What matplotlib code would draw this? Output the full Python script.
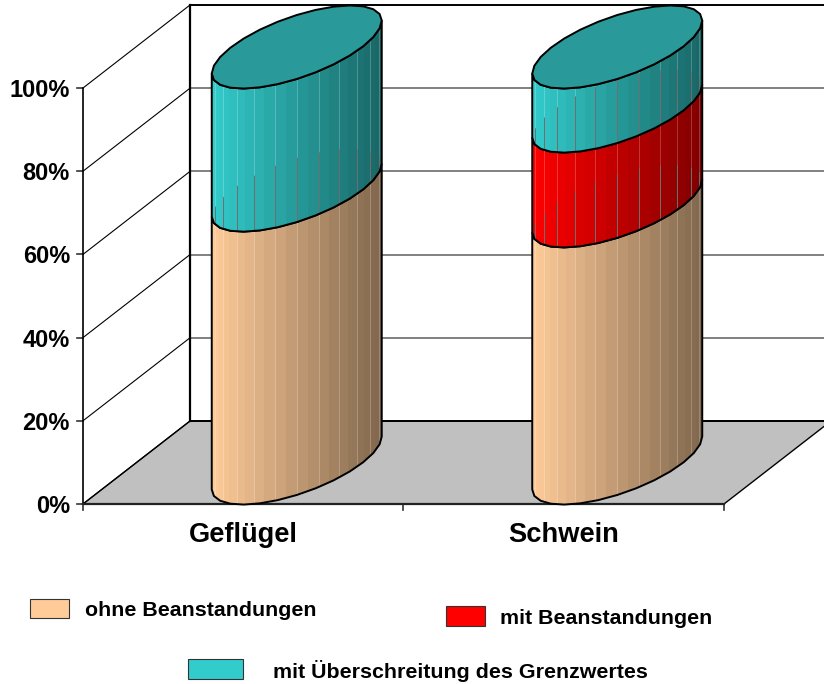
#!/usr/bin/env python

import numpy as np
import matplotlib
matplotlib.use("Agg")
import matplotlib.pyplot as plt
from matplotlib.patches import Polygon, Rectangle
from matplotlib.colors import to_rgb

plt.rcParams['font.family'] = ['Liberation Sans', 'DejaVu Sans']

categories = ['Geflügel', 'Schwein']
ohne = [65.6, 61.8]
mit = [0.0, 22.8]
ueber = [34.4, 15.4]
series_names = ['ohne Beanstandungen', 'mit Beanstandungen', 'mit Überschreitung des Grenzwertes']
series_colors = ['#FFCC99', '#FF0000', '#33CCCC']
y_ticks = [0, 20, 40, 60, 80, 100]

# box geometry of the fake 3d chart, in pixels
X0, X1 = 83, 724
Y0, Y100 = 504, 88
DX, DY = 107, 83
RX, SKEW, RY = 85, 26.5, 32
CAP_COLOR = '#299999'
N_FACETS = 24
N_OUTLINE = 14


def val_y(v):
    return Y0 + (Y100 - Y0) * v / 100.0


def ring(cx, cy, t):
    # sheared ellipse, the right side sits higher than the left
    return cx + RX * np.cos(t), cy - SKEW * np.cos(t) + RY * np.sin(t)


def cap_points(cx, v, n):
    t = np.linspace(0, 2 * np.pi, 2 * n + 1)
    x, y = ring(cx, val_y(v) - 41, t)
    return np.column_stack([x, y])


def draw_segment(ax, cx, lo, hi, color, z, covers_lower):
    t = np.linspace(np.pi, 0, N_OUTLINE + 1)
    xf, yf = ring(cx, val_y(lo) - 41, t)
    xb, yb = ring(cx, val_y(hi) - 41, t)
    outline = np.vstack([np.column_stack([xf, yf]), np.column_stack([xb, yb])[::-1]])
    clip = Polygon(outline, closed=True, transform=ax.transData, fc='none', ec='none')
    ax.add_patch(clip)
    inner = Polygon(cap_points(cx, lo, N_OUTLINE), closed=True, transform=ax.transData, fc='none', ec='none')
    ax.add_patch(inner)

    base = np.array(to_rgb(color))
    edges = cx + RX * np.cos(np.linspace(np.pi, 0, N_FACETS + 1))
    for i in range(N_FACETS):
        shade = 1.0 - 0.5 * (edges[i] + edges[i + 1] - 2 * (cx - RX)) / (4.0 * RX)
        face = Rectangle((edges[i], 0), edges[i + 1] - edges[i] + 0.5, 684, fc=base * shade, ec='none', zorder=z)
        ax.add_patch(face)
        face.set_clip_path(clip)
        if i % 2 == 1:
            tint = base * shade * 0.75 + 0.25
            line, = ax.plot([edges[i + 1]] * 2, [0, 684], color=tint, lw=0.6, zorder=z + 0.1)
            line.set_clip_path(clip)
            if covers_lower:
                # top of the lower segment shows faintly through this one
                line, = ax.plot([edges[i + 1]] * 2, [0, 684], color='#6E6E6E', lw=0.7, zorder=z + 0.15)
                line.set_clip_path(inner)
    ax.add_patch(Polygon(outline, closed=True, fc='none', ec='black', lw=1.4, zorder=z + 0.2))


fig = plt.figure(figsize=(8.24, 6.84), dpi=100)
ax = fig.add_axes([0, 0, 1, 1])
ax.set_xlim(0, 824)
ax.set_ylim(684, 0)
ax.axis('off')

# floor
ax.add_patch(Polygon([(X0, Y0), (X1, Y0), (X1 + DX, Y0 - DY), (X0 + DX, Y0 - DY)], closed=True,
                     fc='#C0C0C0', ec='black', lw=1.0, zorder=1))

# walls and gridlines
for v in y_ticks:
    y = val_y(v)
    ax.plot([X0, X0 + DX], [y, y - DY], color='black', lw=0.8, zorder=2)
    ax.plot([X0 - 6, X0], [y, y], color='#333333', lw=1.2, zorder=2)
    if v > 0:
        ax.plot([X0 + DX, 824], [y - DY, y - DY], color='#000000' if v == 100 else '#808080',
                lw=1.4, zorder=2)
    ax.text(X0 - 13, y + 2.5, '%d%%' % v, ha='right', va='center', fontsize=17, fontweight='bold')
ax.plot([X0, X0], [val_y(100), Y0], color='black', lw=1.2, zorder=2)
ax.plot([X0 + DX, X0 + DX], [val_y(100) - DY, Y0 - DY], color='black', lw=1.6, zorder=2)
ax.plot([X0, X1], [Y0, Y0], color='#222222', lw=1.6, zorder=3)
ax.plot([X0 + DX, 824], [Y0 - DY, Y0 - DY], color='black', lw=1.4, zorder=2)

# category axis
step = (X1 - X0) / len(categories)
for i in range(len(categories) + 1):
    ax.plot([X0 + i * step] * 2, [Y0, Y0 + 6], color='#333333', lw=1.2, zorder=2)

for i, name in enumerate(categories):
    cx = X0 + (i + 0.5) * step + DX / 2.0
    ax.text(X0 + (i + 0.5) * step, 535.5, name, ha='center', va='center', fontsize=19.6, fontweight='bold')
    bottom = 0.0
    for j, vals in enumerate([ohne, mit, ueber]):
        if vals[i] > 0:
            draw_segment(ax, cx, bottom, bottom + vals[i], series_colors[j], 5 + j, bottom > 0)
            bottom += vals[i]
    ax.add_patch(Polygon(cap_points(cx, bottom, N_OUTLINE), closed=True, fc=CAP_COLOR, ec='black', lw=1.4, zorder=9))

# legend, three separate entries
legend_boxes = [(30, 599, 39, 19), (446, 606, 39, 20), (188, 659, 55, 20)]
legend_text = [(85, 610), (500, 618), (273, 671)]
for j, name in enumerate(series_names):
    x, y, w, h = legend_boxes[j]
    ax.add_patch(Rectangle((x, y), w, h, fc=series_colors[j], ec='#333333', lw=0.8))
    ax.text(legend_text[j][0], legend_text[j][1], name, ha='left', va='center', fontsize=15.4, fontweight='bold')

fig.savefig('out.png', dpi=100)
